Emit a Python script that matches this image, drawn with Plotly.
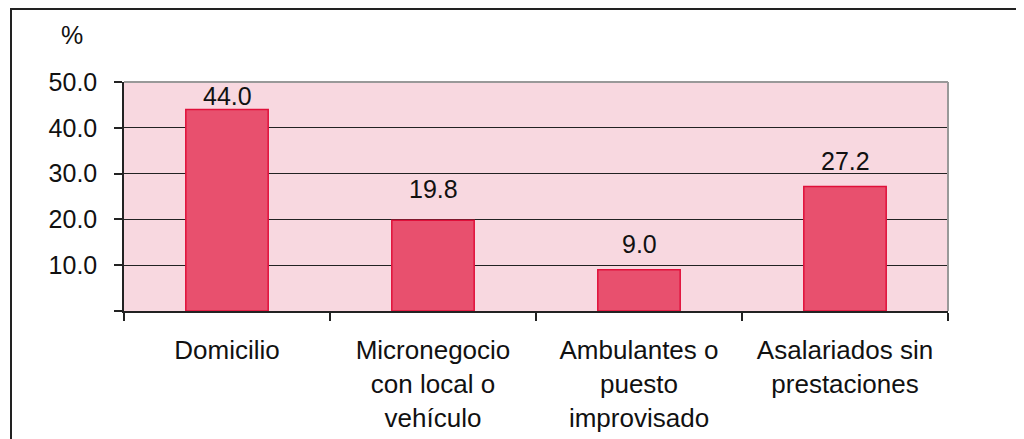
import plotly.graph_objects as go

categories = ["Domicilio", "Micronegocio<br>con local o<br>vehículo", "Ambulantes o<br>puesto<br>improvisado", "Asalariados sin<br>prestaciones"]
values = [44.0, 19.8, 9.0, 27.2]
ytick_vals = [0, 10, 20, 30, 40, 50]
ytick_text = ["", "10.0", "20.0", "30.0", "40.0", "50.0"]

# label offsets above bar tops (pixels, style only)
label_shift = [13, 31, 26, 25]

FONT = "Liberation Sans, Arial, sans-serif"
W, H = 1024, 439
OFF = 8  # page body margin offset
L, R, T, B = 116, 84, 74, 136
pw, ph = W - L - R, H - T - B

fig = go.Figure(go.Bar(
    x=categories, y=values,
    marker=dict(color="#E8506E", line=dict(color="#E0103A", width=1.5)),
    width=0.4, hoverinfo="x+y",
))

def px(page_x):
    return (page_x - OFF - L) / pw

def py(page_y):
    return (H - B - (page_y - OFF)) / ph

annotations = [
    dict(text="%", xref="paper", yref="paper", x=px(72), y=py(35),
         showarrow=False, font=dict(size=25), xanchor="center", yanchor="middle"),
]
for cat, v, s in zip(categories, values, label_shift):
    annotations.append(dict(x=cat, y=v, xref="x", yref="y", text=f"{v:.1f}",
                            showarrow=False, yshift=s, yanchor="middle",
                            font=dict(size=25, color="#111111")))

fig.update_layout(
    width=W, height=H,
    margin=dict(l=L, r=R, t=T, b=B),
    paper_bgcolor="white", plot_bgcolor="#F8D8E0",
    font=dict(family=FONT, size=25, color="#111111"),
    showlegend=False,
    xaxis=dict(showline=True, linecolor="#222", linewidth=1.5, ticks="outside",
               tickson="boundaries", ticklen=8, tickcolor="#222", tickwidth=1.5,
               showgrid=False, tickfont=dict(size=26), ticklabelstandoff=15),
    yaxis=dict(range=[0, 50], tickvals=ytick_vals, ticktext=ytick_text,
               showline=True, linecolor="#222", linewidth=1.5, ticks="outside",
               ticklen=8, tickcolor="#222", tickwidth=1.5,
               showgrid=True, gridcolor="#222", gridwidth=1, zeroline=False,
               tickfont=dict(size=25), ticklabelstandoff=12),
    shapes=[
        dict(type="line", xref="paper", yref="paper", x0=0, x1=1, y0=1, y1=1,
             line=dict(color="#999", width=2)),
        dict(type="line", xref="paper", yref="paper", x0=1, x1=1, y0=0, y1=1,
             line=dict(color="#999", width=2)),
        dict(type="rect", xref="paper", yref="paper",
             x0=px(11), x1=px(1018), y0=py(470), y1=py(OFF + 1),
             line=dict(color="#222", width=2), fillcolor="rgba(0,0,0,0)"),
    ],
    annotations=annotations,
)

fig.write_html("out.html")
